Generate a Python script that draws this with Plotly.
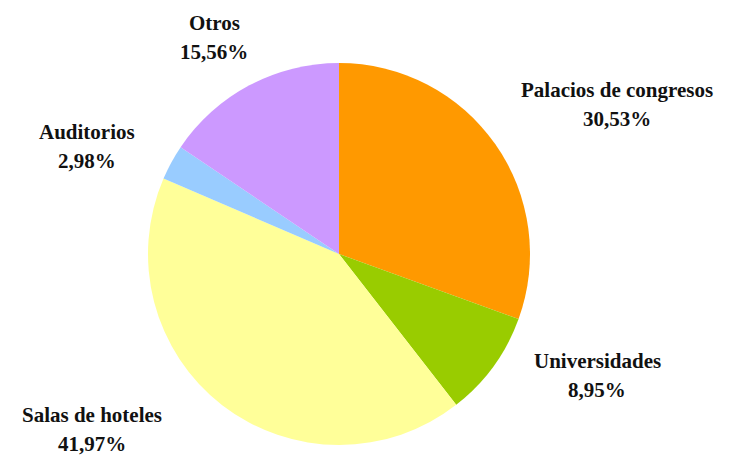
import plotly.graph_objects as go

categories = ["Palacios de congresos", "Universidades", "Salas de hoteles", "Auditorios", "Otros"]
shares = [30.53, 8.95, 41.97, 2.98, 15.56]
colors = ["#FF9900", "#99CC00", "#FFFF99", "#99CCFF", "#CC99FF"]

# label anchor positions (window pixels), name line then value line
label_pos = [(617, 90), (597, 361), (92, 415), (87, 132), (214, 23)]

OFF = 8  # page body margin
W, H = 730 - OFF, 458 - OFF
cx, cy, r = 339 - OFF, 254 - OFF, 191

fig = go.Figure(go.Pie(
    labels=categories,
    values=shares,
    sort=False,
    direction="clockwise",
    rotation=0,
    textinfo="none",
    hoverinfo="label+percent",
    marker=dict(colors=colors, line=dict(width=0)),
    domain=dict(x=[(cx - r) / W, (cx + r) / W], y=[(H - cy - r) / H, (H - cy + r) / H]),
    showlegend=False,
))

FAM = "Liberation Serif, Times New Roman, serif"
font = dict(family=FAM, size=21, color="#111111", weight="bold")
for name, val, (x, y) in zip(categories, shares, label_pos):
    x, y = x - OFF, y - OFF
    fig.add_annotation(x=x / W, y=1 - y / H, xref="paper", yref="paper",
                       text=name, showarrow=False, font=font,
                       xanchor="center", yanchor="middle")
    fig.add_annotation(x=x / W, y=1 - (y + 29) / H, xref="paper", yref="paper",
                       text="%s%%" % ("%.2f" % val).replace(".", ","), showarrow=False, font=font,
                       xanchor="center", yanchor="middle")

fig.update_layout(width=W, height=H, margin=dict(l=0, r=0, t=0, b=0),
                  paper_bgcolor="white", plot_bgcolor="white",
                  font=dict(family=FAM))
fig.write_html("out.html")
